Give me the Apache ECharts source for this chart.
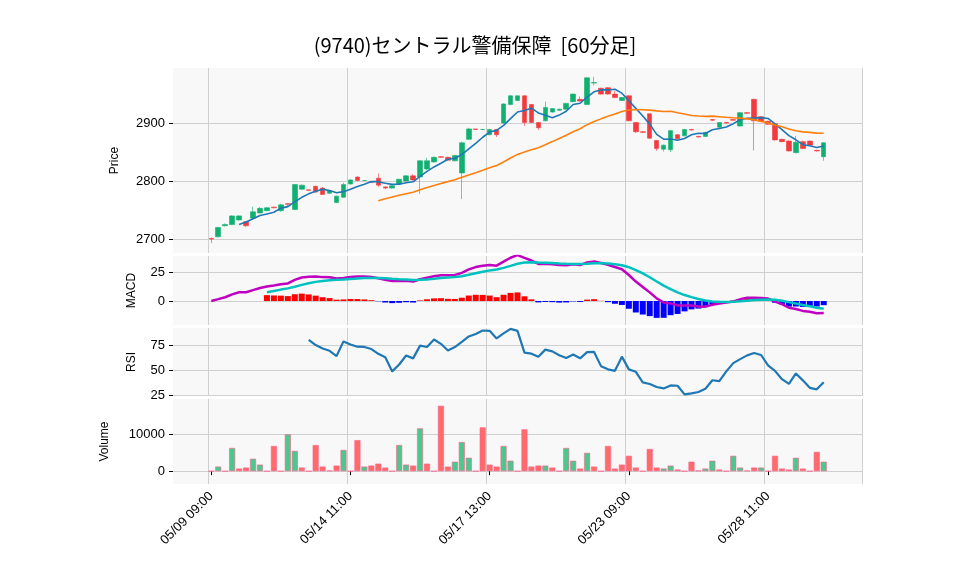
<!DOCTYPE html>
<html>
<head>
<meta charset="utf-8">
<script src="https://cdn.jsdelivr.net/npm/echarts@6/dist/echarts.min.js"></script>
<style>html,body{margin:0;padding:0;background:#fff}#main{width:958px;height:575px}</style>
</head>
<body>
<div id="main"></div>
<script>
var days = ['05/09','05/10','05/13','05/14','05/15','05/16','05/17','05/20','05/21','05/22','05/23','05/24','05/27','05/28','05/29'];
var hours = ['09:00','10:00','11:00','12:00','13:00','14:00'];
var opens  = [2701,2704,2723,2725,2733,2730,2736,2745,2749,2755,2749,2761,2751,2786,2785,2791,2788,2779,2763,2772,2795,2807,2801,2799,2805,2790,2788,2795,2800,2809,2807,2821,2833,2842,2841,2835,2814,2872,2890,2889,2880,2889,2900,2932,2939,2947,2932,2901,2904,2919,2922,2924,2937,2941,2932,2969,2960,2961,2950,2939,2947,2901,2885,2916,2870,2855,2854,2880,2878,2889,2877,2877,2906,2893,2901,2906,2895,2918,2941,2911,2903,2899,2872,2869,2849,2868,2869,2853,2842];
var closes = [2700,2720,2725,2740,2740,2723,2747,2753,2754,2754,2759,2760,2794,2793,2784,2781,2777,2783,2774,2794,2802,2801,2801,2798,2793,2788,2792,2803,2809,2802,2835,2835,2841,2841,2836,2844,2866,2890,2889,2889,2889,2880,2933,2947,2947,2901,2901,2892,2927,2925,2924,2934,2950,2938,2978,2970,2950,2950,2944,2944,2904,2885,2884,2874,2856,2862,2887,2873,2889,2888,2876,2884,2905,2901,2900,2905,2918,2917,2904,2903,2898,2871,2868,2852,2867,2856,2862,2852,2866];
var lows   = [2693,2703,2722,2724,2732,2721,2735,2744,2748,2753,2747,2757,2750,2785,2783,2780,2776,2778,2762,2771,2794,2800,2800,2797,2790,2786,2787,2794,2799,2801,2778,2819,2832,2840,2835,2834,2769,2871,2888,2888,2879,2876,2899,2931,2938,2895,2900,2888,2903,2918,2921,2923,2936,2937,2931,2965,2949,2949,2943,2938,2903,2883,2883,2873,2852,2851,2850,2872,2877,2887,2875,2876,2904,2892,2899,2904,2894,2916,2853,2902,2897,2870,2867,2851,2848,2855,2860,2851,2835];
var highs  = [2703,2721,2727,2741,2741,2731,2756,2755,2755,2756,2761,2762,2795,2794,2785,2792,2790,2784,2775,2797,2803,2808,2802,2800,2813,2791,2793,2804,2810,2812,2836,2840,2842,2843,2842,2845,2868,2892,2890,2890,2890,2890,2934,2948,2948,2948,2933,2902,2937,2926,2925,2935,2951,2946,2979,2980,2961,2962,2955,2945,2948,2902,2886,2917,2871,2863,2888,2881,2890,2890,2878,2885,2907,2902,2902,2907,2919,2919,2942,2912,2904,2900,2873,2870,2878,2870,2870,2854,2867];
var volumes = [0,1250,0,6340,710,980,3390,1790,0,6880,0,10090,5540,980,0,7140,1250,180,1520,5800,0,8480,1250,1520,2050,980,0,7140,1790,1520,11700,2050,0,17860,1250,2590,7950,3660,0,11970,1790,1250,6880,2860,0,11430,1250,1520,1520,980,0,6340,2860,710,5000,1250,0,6880,710,1790,4200,980,0,6070,980,710,1520,450,0,2590,180,710,2860,450,0,4200,980,180,980,980,0,4200,710,450,3660,710,0,5270,2590];
var volDir = 'xGxGRRGGxRxGGRxRRGRGxRGRRRxGGRGRxRRGGGxRRRGGxRRRGRxGGRGRxRRRRRxRRGGRxRRGGRxGGGRGxRRRGRxRG';
var priceTicks = [2700, 2800, 2900];
var macdTicks = [0, 25];
var rsiTicks = [25, 50, 75];
var volTicks = [0, 10000];

var PAD = 5; // empty slots on each side of the data
var n = closes.length;
var cats = [];
days.forEach(function (d) { hours.forEach(function (h) { cats.push(d + ' ' + h); }); });
cats = cats.slice(0, n);
var xcats = [];
for (var i = 0; i < PAD; i++) xcats.push('p' + i);
xcats = xcats.concat(cats);
for (var i = 0; i < PAD; i++) xcats.push('q' + i);
function pad(arr) {
    var out = [];
    for (var i = 0; i < PAD; i++) out.push('-');
    out = out.concat(arr);
    for (var i = 0; i < PAD; i++) out.push('-');
    return out;
}
function ma(p) {
    return closes.map(function (v, i) {
        if (i < p - 1) return '-';
        var s = 0;
        for (var k = i - p + 1; k <= i; k++) s += closes[k];
        return +(s / p).toFixed(2);
    });
}
function ema(arr, p) {
    var a = 2 / (p + 1), out = [arr[0]];
    for (var i = 1; i < arr.length; i++) out.push(a * arr[i] + (1 - a) * out[i - 1]);
    return out;
}
var e12 = ema(closes, 12), e26 = ema(closes, 26);
var macd = e12.map(function (v, i) { return v - e26[i]; });
var sig = ema(macd, 9);
var hist = macd.map(function (v, i) { return i < 8 ? '-' : v - sig[i]; });
var sigShow = sig.map(function (v, i) { return i < 8 ? '-' : v; });
var rsi = closes.map(function (v, i) {
    if (i < 14) return '-';
    var g = 0, l = 0;
    for (var k = i - 13; k <= i; k++) {
        var d = closes[k] - closes[k - 1];
        if (d > 0) g += d; else l -= d;
    }
    return l === 0 ? 100 : 100 - 100 / (1 + g / l);
});

var myChart = echarts.init(document.getElementById('main'));
var gl = 173, gr = 96;
var grids = [
    {left: gl, right: gr, top: 68, height: 185},
    {left: gl, right: gr, top: 256, height: 69},
    {left: gl, right: gr, top: 328, height: 68},
    {left: gl, right: gr, top: 399, height: 85}
];
grids.forEach(function (g) { g.show = true; g.backgroundColor = '#f8f8f8'; g.borderWidth = 0; });

function showAt(idx) { return idx >= PAD && (idx - PAD) % 20 === 0; }
function xAx(idx, last) {
    return {
        type: 'category', gridIndex: idx, data: xcats, boundaryGap: true,
        axisLine: {show: false},
        axisTick: {show: last, alignWithLabel: true, interval: showAt, length: 4, lineStyle: {color: '#000'}},
        axisLabel: {show: last, interval: showAt, rotate: 45, color: '#000', fontSize: 13, margin: 10},
        splitLine: {show: true, interval: showAt, lineStyle: {color: '#cfcfcf', width: 1}}
    };
}
function yAx(idx, name, min, max, ticks, gap) {
    return {
        type: 'value', gridIndex: idx, min: min, max: max, name: name,
        nameLocation: 'middle', nameGap: gap, nameRotate: 90,
        nameTextStyle: {color: '#000', fontSize: 12},
        axisLine: {show: false},
        axisTick: {show: true, customValues: ticks, length: 4, lineStyle: {color: '#000'}},
        axisLabel: {customValues: ticks, color: '#000', fontSize: 13, formatter: function (v) { return String(v); }},
        splitLine: {show: true, lineStyle: {color: '#cfcfcf'}}
    };
}

var option = {
    animation: false,
    title: {
        text: '(9740)セントラル警備保障  [60分足]', left: 470, top: 30, textAlign: 'center',
        textStyle: {fontFamily: 'Noto Sans CJK JP', fontSize: 20, fontWeight: 'normal', color: '#000'}
    },
    grid: grids,
    xAxis: [xAx(0, false), xAx(1, false), xAx(2, false), xAx(3, true)],
    yAxis: [
        yAx(0, 'Price', 2676, 2995, priceTicks, 52),
        yAx(1, 'MACD', -20.7, 38.8, macdTicks, 35),
        yAx(2, 'RSI', 24, 92.3, rsiTicks, 35),
        yAx(3, 'Volume', -3510, 19730, volTicks, 62)
    ],
    series: [
        {
            type: 'candlestick', xAxisIndex: 0, yAxisIndex: 0, barWidth: 5,
            data: pad(opens.map(function (o, i) { return [o, closes[i], lows[i], highs[i]]; })),
            itemStyle: {color: '#10b070', color0: '#f23a3f', borderColor: '#10b070', borderColor0: '#f23a3f', borderWidth: 0.6}
        },
        {type: 'line', xAxisIndex: 0, yAxisIndex: 0, data: pad(ma(5)), showSymbol: false, lineStyle: {color: '#1f77b4', width: 1.6}},
        {type: 'line', xAxisIndex: 0, yAxisIndex: 0, data: pad(ma(25)), showSymbol: false, lineStyle: {color: '#ff7f0e', width: 1.6}},
        {
            type: 'bar', xAxisIndex: 1, yAxisIndex: 1, barWidth: 6, data: pad(hist),
            itemStyle: {color: function (p) { return p.value >= 0 ? '#ff0000' : '#0000ff'; }}
        },
        {type: 'line', xAxisIndex: 1, yAxisIndex: 1, data: pad(macd), showSymbol: false, lineStyle: {color: '#c000c0', width: 2.5}},
        {type: 'line', xAxisIndex: 1, yAxisIndex: 1, data: pad(sigShow), showSymbol: false, lineStyle: {color: '#00c0c0', width: 2.5}},
        {type: 'line', xAxisIndex: 2, yAxisIndex: 2, data: pad(rsi), showSymbol: false, lineStyle: {color: '#1f77b4', width: 2.2}},
        {
            type: 'bar', xAxisIndex: 3, yAxisIndex: 3, barWidth: 6, data: pad(volumes),
            itemStyle: {
                color: function (p) { return volDir[p.dataIndex - PAD] === 'R' ? '#ff6b6b' : '#4cc88f'; },
                borderColor: function (p) { return volDir[p.dataIndex - PAD] === 'R' ? '#f04f4f' : '#3cb87f'; },
                borderWidth: 0.6
            }
        }
    ]
};
myChart.setOption(option);
</script>
</body>
</html>
